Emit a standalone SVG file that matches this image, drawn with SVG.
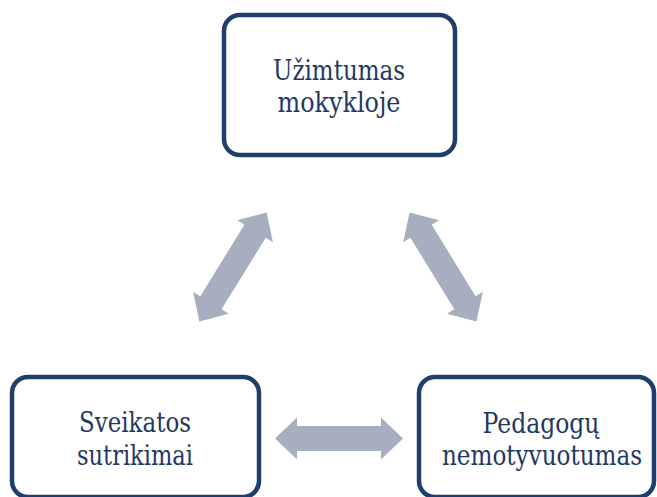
<svg xmlns="http://www.w3.org/2000/svg" width="657" height="497" viewBox="0 0 657 497">
<style>
.box{fill:#fff;stroke:#1f3d6d;stroke-width:4.5}
.lbl{font-family:"DejaVu Serif","Liberation Serif",serif;font-size:28px;fill:#1f3864;text-anchor:middle}
.arr{fill:#a7aebf}
</style>
<defs>
<path id="dbl" d="M -64 0 L -42 -21 L -42 -12.5 L 42 -12.5 L 42 -21 L 64 0 L 42 21 L 42 12.5 L -42 12.5 L -42 21 Z"/>
</defs>
<rect width="657" height="497" fill="#fff"/>
<g id="connectors" class="arr">
<use href="#dbl" transform="translate(233,267) rotate(-58.3)"/>
<use href="#dbl" transform="translate(443,267) rotate(58.5)"/>
<use href="#dbl" transform="translate(339,438.5)"/>
</g>
<g id="node-uzimtumas">
<rect class="box" x="224" y="15" width="231" height="140" rx="16"/>
<text class="lbl" x="339" y="80" textLength="132" lengthAdjust="spacingAndGlyphs">Užimtumas</text>
<text class="lbl" x="339" y="112" textLength="123" lengthAdjust="spacingAndGlyphs">mokykloje</text>
</g>
<g id="node-sveikatos">
<rect class="box" x="12" y="377" width="247" height="120" rx="16"/>
<text class="lbl" x="135" y="432" textLength="112" lengthAdjust="spacingAndGlyphs">Sveikatos</text>
<text class="lbl" x="135" y="465" textLength="116" lengthAdjust="spacingAndGlyphs">sutrikimai</text>
</g>
<g id="node-pedagogu">
<rect class="box" x="419" y="377" width="235" height="120" rx="16"/>
<text class="lbl" x="541" y="433" textLength="117" lengthAdjust="spacingAndGlyphs">Pedagogų</text>
<text class="lbl" transform="translate(542,465) scale(0.82,1)" textLength="244" lengthAdjust="spacingAndGlyphs">nemotyvuotumas</text>
</g>
</svg>
